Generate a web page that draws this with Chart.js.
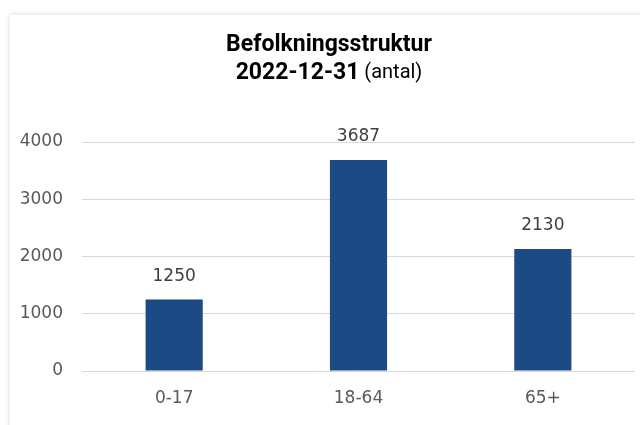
<!DOCTYPE html>
<html>
<head>
<meta charset="utf-8">
<script src="https://cdn.jsdelivr.net/npm/chart.js@4"></script>
<style>
  html, body { margin: 0; padding: 0; background: #ffffff; }
  body { width: 640px; height: 425px; position: relative; overflow: hidden; }
  #card { position: absolute; left: 10px; top: 15px; width: 660px; height: 440px;
          background: #fff; box-shadow: 0 0 6px rgba(0,0,0,0.16); }
  #wrap { position: absolute; left: 0; top: 0; width: 640px; height: 425px; }
</style>
</head>
<body>
<div id="card"></div>
<div id="wrap"><canvas id="c" width="640" height="425"></canvas></div>
<script>
const categories = ["0-17", "18-64", "65+"];
const values = [1250, 3687, 2130];
const yTicks = [0, 1000, 2000, 3000, 4000];
const titleLine1 = "Befolkningsstruktur";
const titleLine2Bold = "2022-12-31";
const titleLine2Normal = " (antal)";

const tickFont = "'DejaVu Sans', sans-serif";

const titlePlugin = {
  id: 'mixedTitle',
  afterDraw(chart) {
    const ctx = chart.ctx;
    const cx = 329;
    ctx.save();
    ctx.fillStyle = '#000000';
    ctx.textBaseline = 'middle';
    ctx.textAlign = 'left';
    const bold = "bold 23px 'Roboto', sans-serif";
    const norm = "20px 'Roboto', sans-serif";
    ctx.font = bold;
    const w1 = ctx.measureText(titleLine1).width;
    ctx.fillText(titleLine1, cx - w1 / 2, 45);
    const wb = ctx.measureText(titleLine2Bold).width;
    ctx.font = norm;
    const wn = ctx.measureText(titleLine2Normal).width;
    const start = cx - (wb + wn) / 2;
    ctx.font = bold;
    ctx.fillText(titleLine2Bold, start, 73);
    ctx.font = norm;
    ctx.fillText(titleLine2Normal, start + wb, 73);
    ctx.restore();
  }
};

const valueLabels = {
  id: 'valueLabels',
  afterDatasetsDraw(chart) {
    const ctx = chart.ctx;
    const meta = chart.getDatasetMeta(0);
    ctx.save();
    ctx.font = "17px " + tickFont;
    ctx.fillStyle = '#404040';
    ctx.textAlign = 'center';
    ctx.textBaseline = 'middle';
    meta.data.forEach((bar, i) => {
      ctx.fillText(String(chart.data.datasets[0].data[i]), bar.x, bar.y - 23);
    });
    ctx.restore();
  }
};

new Chart(document.getElementById('c'), {
  type: 'bar',
  data: {
    labels: categories,
    datasets: [{
      data: values,
      backgroundColor: '#1b4a85',
      borderWidth: 0,
      barPercentage: 0.31,
      categoryPercentage: 1.0
    }]
  },
  options: {
    responsive: false,
    animation: false,
    devicePixelRatio: 1,
    layout: { padding: { left: 0, right: 5, top: 142, bottom: 14 } },
    plugins: { legend: { display: false }, title: { display: false }, tooltip: { enabled: false } },
    scales: {
      x: {
        grid: { display: false, drawTicks: false },
        border: { display: false },
        ticks: { color: '#595959', font: { family: tickFont, size: 17 }, padding: 17 },
        afterFit(scale) { scale.height = 40; }
      },
      y: {
        min: 0, max: 4000,
        afterBuildTicks(scale) { scale.ticks = yTicks.map(v => ({ value: v })); },
        grid: { color: '#d9d9d9', lineWidth: 1, drawTicks: false },
        border: { display: false },
        ticks: { color: '#595959', font: { family: tickFont, size: 17 }, padding: 19,
                 callback: (v) => String(v) },
        afterFit(scale) { scale.width = 82; }
      }
    }
  },
  plugins: [titlePlugin, valueLabels]
});
</script>
</body>
</html>
